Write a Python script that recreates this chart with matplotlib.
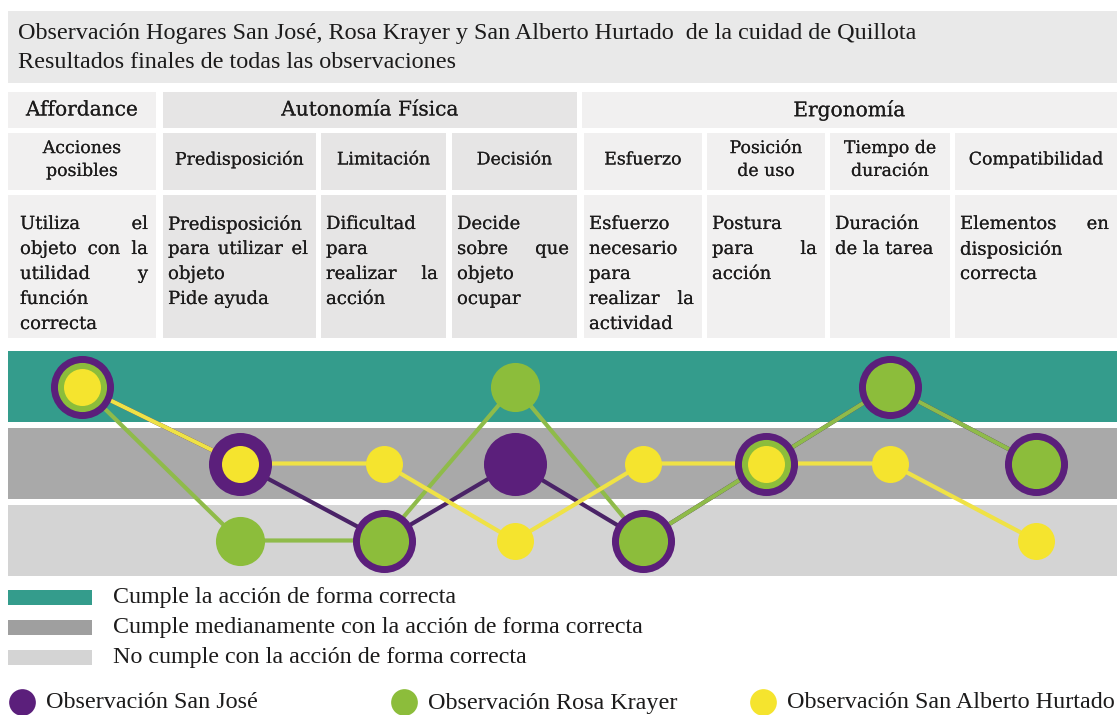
import matplotlib.pyplot as plt
import matplotlib.patheffects as pe
from matplotlib.patches import Rectangle

W, H = 1117, 715

title_lines = [
    "Observación Hogares San José, Rosa Krayer y San Alberto Hurtado  de la cuidad de Quillota",
    "Resultados finales de todas las observaciones",
]
groups = ["Affordance", "Autonomía Física", "Ergonomía"]
group_cols = [(0, 1), (1, 4), (4, 8)]
criteria = ["Acciones\nposibles", "Predisposición", "Limitación", "Decisión",
            "Esfuerzo", "Posición\nde uso", "Tiempo de\nduración", "Compatibilidad"]
descriptions = [
    ["Utiliza el", "objeto con la", "utilidad y", "función", "correcta"],
    ["Predisposición", "para utilizar el", "objeto", "Pide ayuda"],
    ["Dificultad", "para", "realizar la", "acción"],
    ["Decide", "sobre que", "objeto", "ocupar"],
    ["Esfuerzo", "necesario", "para", "realizar la", "actividad"],
    ["Postura", "para la", "acción"],
    ["Duración", "de la tarea"],
    ["Elementos en", "disposición", "correcta"],
]
level_labels = ["Cumple la acción de forma correcta",
                "Cumple medianamente con la acción de forma correcta",
                "No cumple con la acción de forma correcta"]
levels = [3, 2, 1]

series_names = ["Observación San José", "Observación Rosa Krayer",
                "Observación San Alberto Hurtado"]
san_jose = [3, 2, 1, 2, 1, 2, 3, 2]
rosa_krayer = [3, 1, 1, 3, 1, 2, 3, 2]
san_alberto = [3, 2, 2, 1, 2, 2, 2, 1]

# layout (pixels)
col_left = [8, 163, 321, 452, 584, 707, 830, 955]
col_right = [156, 316, 446, 577, 702, 825, 950, W]
col_center = [(a + b) / 2 for a, b in zip(col_left, col_right)]
dark_cols = [1, 2, 3]

band_colors = ["#349c8c", "#a9a9a9", "#d4d4d4"]
legend_colors = ["#349c8c", "#9f9f9f", "#d4d4d4"]
purple, green, yellow = "#5b1f7b", "#8cbd3b", "#f5e42e"
purple_line, green_line, yellow_line = "#4a2367", "#8fbb4a", "#efe246"
light_cell, dark_cell = "#f1f0f0", "#e6e5e5"
txt = "#1c1b1b"

fig = plt.figure(figsize=(W / 100, H / 100), dpi=100)
bg = fig.add_axes([0, 0, 1, 1])
bg.set_xlim(0, W)
bg.set_ylim(H, 0)
bg.axis("off")

serif = "Liberation Serif"
slab = "DejaVu Serif"
heavy = [pe.withStroke(linewidth=0.1, foreground="#3a3838")]

# title box
bg.add_patch(Rectangle((8, 11), W - 8, 72, color="#e9e9e9", lw=0))
for i, line in enumerate(title_lines):
    bg.text(18, 34 + i * 29, line, fontsize=17.4, family=serif, color=txt, va="center")

# header row: groups
for name, (a, b) in zip(groups, group_cols):
    x0, x1 = col_left[a], col_right[b - 1]
    c = dark_cell if a in dark_cols else light_cell
    if name == "Ergonomía":
        x0 -= 2
    bg.add_patch(Rectangle((x0, 92), x1 - x0, 36, color=c, lw=0))
    bg.text((x0 + x1) / 2, 110, name, fontsize=14.5, family=slab, color=txt,
            ha="center", va="center", path_effects=heavy)

# criteria row and description row
renderer = fig.canvas.get_renderer()
for i in range(len(criteria)):
    x0, x1 = col_left[i], col_right[i]
    c = dark_cell if i in dark_cols else light_cell
    bg.add_patch(Rectangle((x0, 133), x1 - x0, 57, color=c, lw=0))
    bg.add_patch(Rectangle((x0, 195), x1 - x0, 143, color=c, lw=0))
    bg.text((x0 + x1) / 2, 160, criteria[i], fontsize=12.5, family=slab, color=txt,
            ha="center", va="center", linespacing=1.45, multialignment="center",
            path_effects=heavy)

    pad_l = 12 if i == 0 else 5
    tx0, tx1 = x0 + pad_l, x1 - 8
    lines = descriptions[i]
    for j, line in enumerate(lines):
        y = 224 + j * 25
        words = line.split()
        if len(words) == 1 or j == len(lines) - 1:
            bg.text(tx0, y, line, fontsize=13, family=slab, color=txt, va="center",
                    path_effects=heavy)
            continue
        objs = [bg.text(0, y, w, fontsize=13, family=slab, color=txt, va="center",
                        path_effects=heavy) for w in words]
        widths = [o.get_window_extent(renderer).width for o in objs]
        gap = max((tx1 - tx0 - sum(widths)) / (len(words) - 1), 4)
        xx = tx0
        for o, wd in zip(objs, widths):
            o.set_x(xx)
            xx += wd + gap

# chart
ax = fig.add_axes([8 / W, 1 - 579 / H, (W - 8) / W, 231 / H])
ax.set_xlim(8, W)
ax.set_ylim(0.5, 3.5)
ax.axis("off")
for lv, c in zip(levels, band_colors):
    ax.axhspan(lv - 0.46, lv + 0.46, color=c, lw=0, zorder=0)

ax.plot(col_center, san_jose, color=purple_line, lw=3, zorder=2, solid_capstyle="round")
ax.plot(col_center, rosa_krayer, color=green_line, lw=3, zorder=2.1, solid_capstyle="round")
ax.plot(col_center, san_alberto, color=yellow_line, lw=3, zorder=2.2, solid_capstyle="round")
ax.scatter(col_center, san_jose, s=2060, color=purple, lw=0, zorder=3, clip_on=False)
ax.scatter(col_center, rosa_krayer, s=1250, color=green, lw=0, zorder=4, clip_on=False)
ax.scatter(col_center, san_alberto, s=710, color=yellow, lw=0, zorder=5, clip_on=False)

# band legend
for k, (lab, c) in enumerate(zip(level_labels, legend_colors)):
    y = 597 + k * 30
    bg.add_patch(Rectangle((8, y - 7.5), 84, 15, color=c, lw=0))
    bg.text(113, y, lab, fontsize=17.3, family=serif, color=txt, va="center")

# series legend
for name, c, x in zip(series_names, [purple, green, yellow], [22, 404, 763]):
    bg.scatter([x], [702], s=370, color=c, lw=0)
    bg.text(x + 24, 703, name, fontsize=17.4, family=serif, color=txt, va="center")

fig.savefig("out.png", dpi=100)
